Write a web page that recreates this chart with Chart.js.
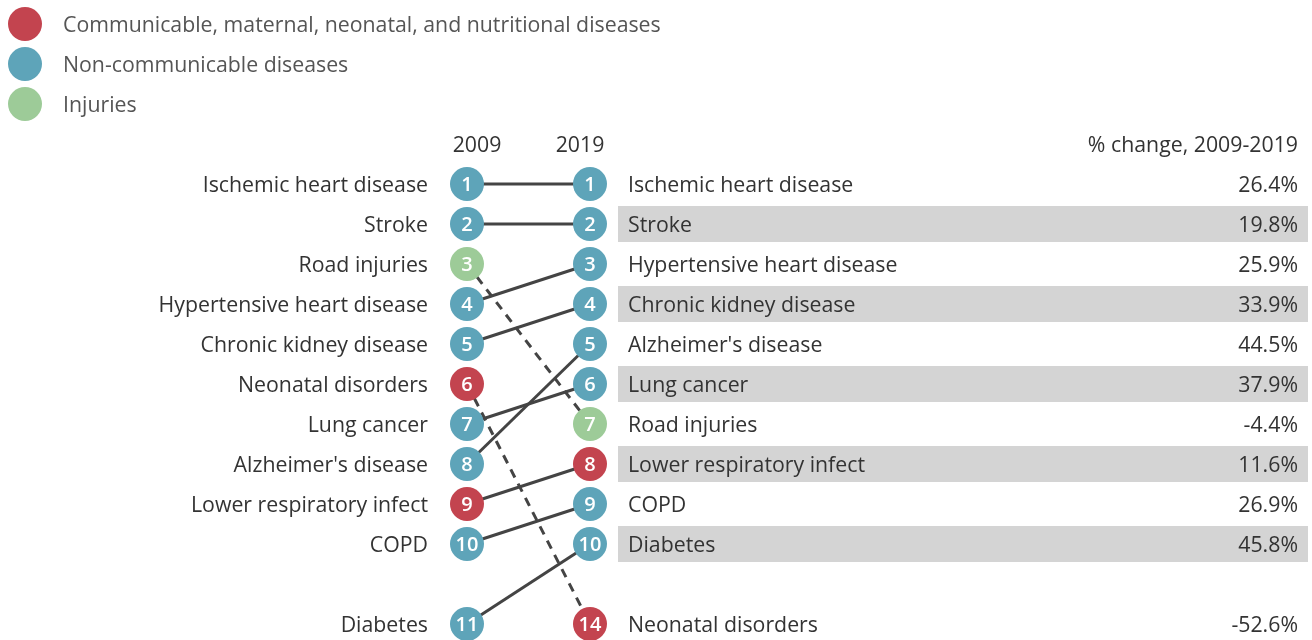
<!DOCTYPE html>
<html lang="en">
<head>
    <meta charset="UTF-8">
    <title>Leading causes 2009-2019</title>
    <script src="https://cdn.jsdelivr.net/npm/chart.js"></script>
    <style>
        html, body { margin: 0; padding: 0; background: #fff; }
        #chart { display: block; }
    </style>
</head>
<body>
    <canvas id="chart" width="1312" height="640"></canvas>

    <script>
        // data
        const years = [2009, 2019];
        const causes = ['Ischemic heart disease', 'Stroke', 'Road injuries', 'Hypertensive heart disease',
            'Chronic kidney disease', 'Neonatal disorders', 'Lung cancer', "Alzheimer's disease",
            'Lower respiratory infect', 'COPD', 'Diabetes'];
        const rank2009 = [1, 2, 3, 4, 5, 6, 7, 8, 9, 10, 11];
        const rank2019 = [1, 2, 7, 3, 4, 14, 6, 5, 8, 9, 10];
        const groups = ['ncd', 'ncd', 'inj', 'ncd', 'ncd', 'cmnn', 'ncd', 'ncd', 'cmnn', 'ncd', 'ncd'];
        const pctChange = [26.4, 19.8, -4.4, 25.9, 33.9, -52.6, 37.9, 44.5, 11.6, 26.9, 45.8];
        const groupNames = ['Communicable, maternal, neonatal, and nutritional diseases', 'Non-communicable diseases', 'Injuries'];
        const groupKeys = ['cmnn', 'ncd', 'inj'];

        const colors = { cmnn: '#c3444f', ncd: '#5ea4b9', inj: '#9dcb98' };
        const FONT = '"Open Sans", "Noto Sans", sans-serif';
        const SIZE = 21.3;
        const DY = 2; // text sits a touch low in the original

        // ranks past 10 go to the row after a one-row gap
        const slot = r => r <= 10 ? r : 12;

        // lines first (drawn below the circles)
        const datasets = causes.map((c, i) => ({
            type: 'scatter',
            showLine: true,
            data: [{ x: years[0], y: slot(rank2009[i]) }, { x: years[1], y: slot(rank2019[i]) }],
            borderColor: '#444',
            borderWidth: 3,
            borderDash: rank2019[i] > rank2009[i] ? [9, 7] : [],
            pointRadius: 0,
            order: 2
        }));
        datasets.push({
            data: causes.map((c, i) => ({ x: years[0], y: slot(rank2009[i]) })),
            pointRadius: 17,
            pointBackgroundColor: groups.map(g => colors[g]),
            pointBorderWidth: 0,
            order: 1
        });
        datasets.push({
            data: causes.map((c, i) => ({ x: years[1], y: slot(rank2019[i]) })),
            pointRadius: 17,
            pointBackgroundColor: groups.map(g => colors[g]),
            pointBorderWidth: 0,
            order: 1
        });

        const labelsPlugin = {
            id: 'labels',
            beforeDatasetsDraw(chart) {
                const ctx = chart.ctx;
                const xs = chart.scales.x, ys = chart.scales.y;
                const x19 = xs.getPixelForValue(years[1]);
                // shaded rows on the right, by 2019 order
                const order = causes.map((c, i) => i).sort((a, b) => rank2019[a] - rank2019[b]);
                ctx.save();
                order.forEach((i, k) => {
                    if (k % 2 === 1) {
                        const y = ys.getPixelForValue(slot(rank2019[i]));
                        ctx.fillStyle = '#d4d4d4';
                        ctx.fillRect(x19 + 28, y - 18, 1308 - (x19 + 28), 36);
                    }
                });
                ctx.restore();
            },
            afterDatasetsDraw(chart) {
                const ctx = chart.ctx;
                const xs = chart.scales.x, ys = chart.scales.y;
                const x09 = xs.getPixelForValue(years[0]);
                const x19 = xs.getPixelForValue(years[1]);
                ctx.save();
                ctx.textBaseline = 'middle';

                // legend
                groupKeys.forEach((g, k) => {
                    const y = 24 + k * 40;
                    ctx.beginPath();
                    ctx.arc(25, y, 17, 0, Math.PI * 2);
                    ctx.fillStyle = colors[g];
                    ctx.fill();
                    ctx.fillStyle = '#555';
                    ctx.font = SIZE + 'px ' + FONT;
                    ctx.textAlign = 'left';
                    ctx.fillText(groupNames[k], 63, y + DY);
                });

                // headers
                const yh = ys.getPixelForValue(0) + DY;
                ctx.fillStyle = '#333';
                ctx.font = SIZE + 'px ' + FONT;
                ctx.textAlign = 'center';
                ctx.fillText(String(years[0]), x09 + 10, yh);
                ctx.fillText(String(years[1]), x19 - 10, yh);
                ctx.textAlign = 'right';
                ctx.fillText('% change, 2009-2019', 1298, yh);

                causes.forEach((c, i) => {
                    const y1 = ys.getPixelForValue(slot(rank2009[i]));
                    const y2 = ys.getPixelForValue(slot(rank2019[i]));
                    ctx.fillStyle = '#333';
                    ctx.font = SIZE + 'px ' + FONT;
                    ctx.textAlign = 'right';
                    ctx.fillText(c, x09 - 39, y1 + DY);
                    ctx.textAlign = 'left';
                    ctx.fillText(c, x19 + 38, y2 + DY);
                    ctx.textAlign = 'right';
                    ctx.fillText(pctChange[i].toFixed(1) + '%', 1298, y2 + DY);
                    // numbers inside circles
                    ctx.fillStyle = '#fff';
                    ctx.font = '600 20px ' + FONT;
                    ctx.textAlign = 'center';
                    ctx.fillText(String(rank2009[i]), x09, y1 + 1);
                    ctx.fillText(String(rank2019[i]), x19, y2 + 1);
                });
                ctx.restore();
            }
        };

        new Chart(document.getElementById('chart'), {
            type: 'scatter',
            data: { datasets },
            options: {
                responsive: false,
                animation: false,
                events: [],
                layout: { padding: 0, autoPadding: false },
                plugins: { legend: { display: false }, tooltip: { enabled: false } },
                scales: {
                    x: { type: 'linear', display: false, min: 1971.033, max: 2077.699 },
                    y: { type: 'linear', display: false, reverse: true, min: -3.6, max: 12.4 }
                }
            },
            plugins: [labelsPlugin]
        });
    </script>
</body>
</html>
